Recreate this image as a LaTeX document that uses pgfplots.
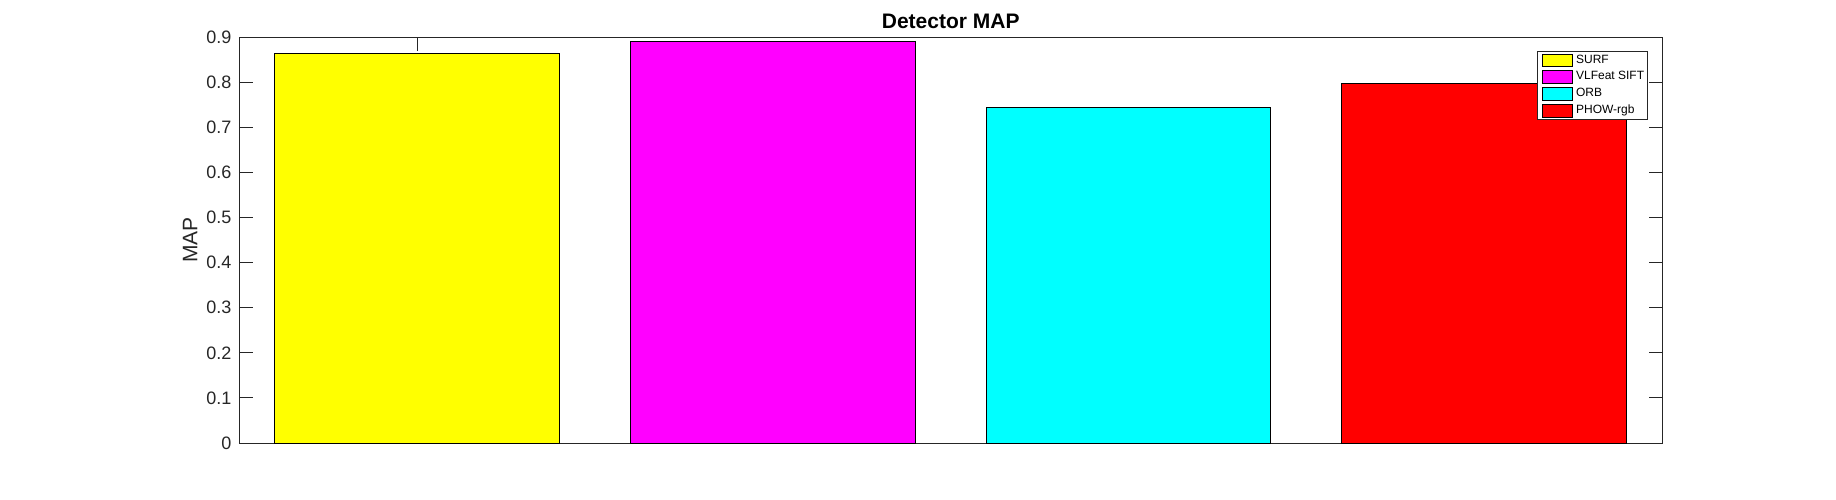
\documentclass[border=0pt]{standalone}
\usepackage{pgfplots}
\pgfplotsset{compat=1.18}
\usepackage{fontspec}
\setmainfont{Liberation Sans}

\definecolor{axgray}{RGB}{38,38,38}

% MAP per detector (bars at x = 1..4)
\pgfplotstableread{
x  map
1  0.8645
}\surf
\pgfplotstableread{
x  map
2  0.891
}\vlsift
\pgfplotstableread{
x  map
3  0.745
}\orb
\pgfplotstableread{
x  map
4  0.798
}\phow

\begin{document}
\begin{tikzpicture}
% canvas of the figure (1 px = 0.5pt)
\path[use as bounding box] (-119.65pt,-28pt) rectangle (798.35pt,221.5pt);
\begin{axis}[
    at={(0pt,0pt)}, anchor=south west,
    scale only axis,
    width=711.4pt, height=202.85pt,
    ybar, bar shift=0pt, bar width=0.8,
    xmin=0.5, xmax=4.5,
    ymin=0, ymax=0.9,
    xtick={1}, xticklabels={},
    ytick={0,0.1,0.2,0.3,0.4,0.5,0.6,0.7,0.8,0.9},
    yticklabels={0,0.1,0.2,0.3,0.4,0.5,0.6,0.7,0.8,0.9},
    tick align=inside, xtick align=inside, ytick align=inside,
    xtick pos=both, ytick pos=both,
    major tick length=6.7pt,
    axis line style={axgray, line width=0.5pt},
    every tick/.style={axgray, line width=0.5pt},
    yticklabel style={font=\fontsize{9}{10}\selectfont, text=axgray, inner sep=0pt, xshift=-3.8pt},
    every axis title shift=0pt,
    title={\textbf{Detector MAP}},
    title style={font=\fontsize{10.5}{12}\selectfont, at={(axis description cs:0.5,1)}, anchor=base, yshift=4.5pt, inner sep=0pt},
    ylabel={MAP},
    ylabel style={font=\fontsize{10.5}{12}\selectfont, text=axgray, at={(axis description cs:-0.0295,0.5)}, rotate=0, anchor=base, inner sep=0pt},
    legend image code/.code={\draw[#1, draw=black, line width=0.4pt] (0pt,-3.2pt) rectangle (15pt,3.2pt);},
    legend style={at={(rel axis cs:1,1)}, anchor=north east, xshift=-6.9pt, yshift=-6.7pt,
        draw=axgray, line width=0.5pt, inner xsep=1.85pt, inner ysep=0.45pt,
        column sep=1.85pt, row sep=0pt,
        font=\fontsize{6}{7}\selectfont,
        nodes={inner sep=0pt, minimum height=8.35pt}},
    legend cell align=left,
]
\addplot[fill={rgb,1:red,1;green,1;blue,0}, draw=black, line width=0.5pt] table[x=x, y=map] {\surf};
\addlegendentry{SURF}
\addplot[fill={rgb,1:red,1;green,0;blue,1}, draw=black, line width=0.5pt] table[x=x, y=map] {\vlsift};
\addlegendentry{VLFeat SIFT}
\addplot[fill={rgb,1:red,0;green,1;blue,1}, draw=black, line width=0.5pt] table[x=x, y=map] {\orb};
\addlegendentry{ORB}
\addplot[fill={rgb,1:red,1;green,0;blue,0}, draw=black, line width=0.5pt] table[x=x, y=map] {\phow};
\addlegendentry{PHOW-rgb}
\end{axis}
\end{tikzpicture}
\end{document}
